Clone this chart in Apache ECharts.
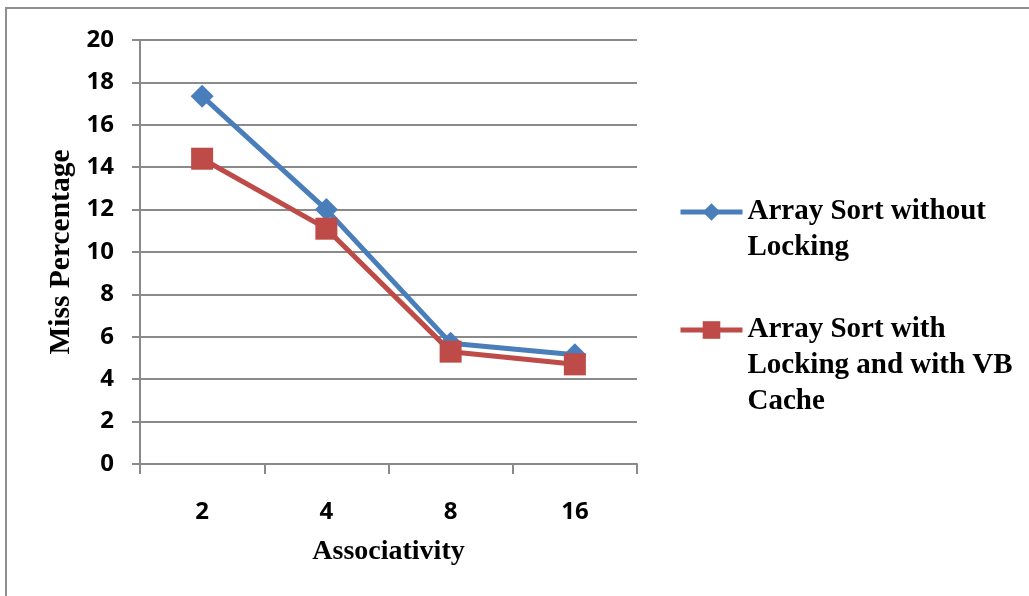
<!DOCTYPE html>
<html>
<head>
<meta charset="utf-8">
<script src="https://cdn.jsdelivr.net/npm/echarts@6/dist/echarts.min.js"></script>
<style>
  html, body { margin: 0; padding: 0; background: #fff; }
  #chart { width: 1029px; height: 596px; }
</style>
</head>
<body>
<div id="chart"></div>
<script>
// Cache associativity vs. miss percentage
const associativity = ['2', '4', '8', '16'];
const yTicks = [0, 20, 2]; // min, max, interval
const withoutLocking = [17.35, 12.0, 5.7, 5.15];
const withLockingVB = [14.4, 11.1, 5.3, 4.7];
const seriesNames = ['Array Sort without Locking', 'Array Sort with Locking and with VB Cache'];
const legendLines = [
  ['Array Sort without', 'Locking'],
  ['Array Sort with', 'Locking and with VB', 'Cache']
];

const BLUE = '#4A7EBB';
const RED = '#BE4B48';
const GRID = '#8a8a8a';
const SERIF = '"Liberation Serif", "Times New Roman", serif';
const SANS = '"Open Sans", "Liberation Sans", sans-serif';
const LINE_H = 36;

// Legend entries: blank lines are prepended so the first text line sits level with the icon
function legendFor(idx, top) {
  const lines = legendLines[idx];
  const pad = new Array(lines.length - 1).fill(' ');
  return {
    orient: 'vertical',
    left: 678,
    top: top,
    padding: 0,
    data: [seriesNames[idx]],
    itemWidth: 62,
    itemHeight: 22,
    itemGap: 0,
    lineStyle: { width: 5 },
    formatter: () => pad.concat(lines).join('\n'),
    textStyle: {
      fontFamily: SERIF,
      fontWeight: 'bold',
      fontSize: 29,
      color: '#000',
      lineHeight: LINE_H
    }
  };
}

const chart = echarts.init(document.getElementById('chart'), null, { renderer: 'canvas' });
chart.setOption({
  animation: false,
  backgroundColor: '#fff',
  graphic: [{
    type: 'rect',
    shape: { x: 6, y: 8, width: 1040, height: 610 },
    style: { fill: 'none', stroke: '#8f8f8f', lineWidth: 2 },
    silent: true
  }],
  grid: { left: 140, right: 392, top: 40, bottom: 132, containLabel: false },
  legend: [
    legendFor(0, 212 - 1.5 * LINE_H),
    legendFor(1, 330 - 2.5 * LINE_H)
  ],
  xAxis: {
    type: 'category',
    data: associativity,
    boundaryGap: true,
    name: 'Associativity',
    nameLocation: 'middle',
    nameGap: 74,
    nameTextStyle: { fontFamily: SERIF, fontWeight: 'bold', fontSize: 28, color: '#000' },
    axisLine: { lineStyle: { color: GRID, width: 2 } },
    axisTick: { show: true, length: 10, lineStyle: { color: GRID, width: 2 } },
    axisLabel: { margin: 36, fontFamily: SANS, fontWeight: 'bold', fontSize: 24, color: '#000' },
    splitLine: { show: false }
  },
  yAxis: {
    type: 'value',
    min: yTicks[0],
    max: yTicks[1],
    interval: yTicks[2],
    name: 'Miss Percentage',
    nameLocation: 'middle',
    nameGap: 64,
    nameRotate: 90,
    nameTextStyle: { fontFamily: SERIF, fontWeight: 'bold', fontSize: 29.5, color: '#000' },
    axisLine: { show: true, lineStyle: { color: GRID, width: 2 } },
    axisTick: { show: true, length: 8, lineStyle: { color: GRID, width: 2 } },
    axisLabel: { margin: 26, fontFamily: SANS, fontWeight: 'bold', fontSize: 24, color: '#000' },
    splitLine: { show: true, lineStyle: { color: GRID, width: 2 } }
  },
  series: [
    {
      name: seriesNames[0],
      type: 'line',
      data: withoutLocking,
      symbol: 'diamond',
      symbolSize: 23,
      color: BLUE,
      lineStyle: { color: BLUE, width: 5 },
      itemStyle: { color: BLUE }
    },
    {
      name: seriesNames[1],
      type: 'line',
      data: withLockingVB,
      symbol: 'rect',
      symbolSize: 22,
      color: RED,
      lineStyle: { color: RED, width: 5 },
      itemStyle: { color: RED }
    }
  ]
});
</script>
</body>
</html>
